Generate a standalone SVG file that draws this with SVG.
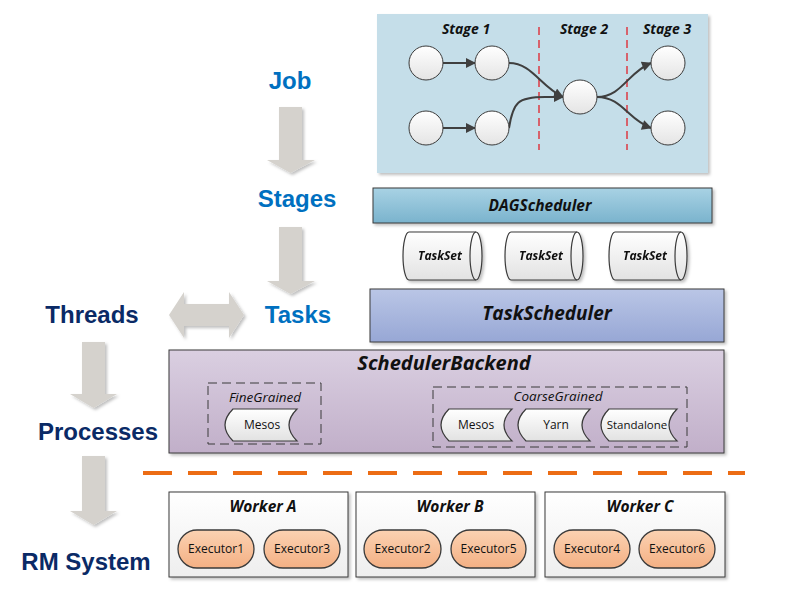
<svg xmlns="http://www.w3.org/2000/svg" width="801" height="595" viewBox="0 0 801 595">
<defs>
<style>
.big{font-family:"Liberation Sans",Arial,sans-serif;font-weight:bold;font-size:24px;text-anchor:middle}
.blue{fill:#0070c0}
.navy{fill:#0a2a66}
.lbl{font-family:"Open Sans","Liberation Sans",sans-serif;fill:#111;text-anchor:middle}
.bi{font-weight:bold;font-style:italic}
.it{font-style:italic}
.box{stroke:#3a3a3a;stroke-width:1}
.circ{fill:url(#gCirc);stroke:#3a3a3a;stroke-width:1}
.edge{fill:none;stroke:#3f3f3f;stroke-width:2;marker-end:url(#ah)}
.red{stroke:#e0202a;stroke-width:1.3;stroke-dasharray:8 5;fill:none}
.gray{fill:#d5d2cd}
.dash{fill:none;stroke:#3a3a3a;stroke-width:1;stroke-dasharray:9 5}
.store{fill:url(#gWhite);stroke:#3a3a3a;stroke-width:1.2}
.exec{fill:url(#gExec);stroke:#3a3a3a;stroke-width:1.3}
</style>
<linearGradient id="gCirc" x1="0" y1="0" x2="0" y2="1"><stop offset="0" stop-color="#ffffff"/><stop offset="1" stop-color="#e4e4e4"/></linearGradient>
<linearGradient id="gWhite" x1="0" y1="0" x2="0" y2="1"><stop offset="0" stop-color="#ffffff"/><stop offset="1" stop-color="#e2e2e2"/></linearGradient>
<linearGradient id="gWorker" x1="0" y1="0" x2="0" y2="1"><stop offset="0" stop-color="#ffffff"/><stop offset="1" stop-color="#eeeeee"/></linearGradient>
<linearGradient id="gDAG" x1="0" y1="0" x2="0" y2="1"><stop offset="0" stop-color="#a8d2e4"/><stop offset="1" stop-color="#7ab3cd"/></linearGradient>
<linearGradient id="gTS" x1="0" y1="0" x2="0" y2="1"><stop offset="0" stop-color="#bac6e6"/><stop offset="1" stop-color="#97a7d5"/></linearGradient>
<linearGradient id="gSB" x1="0" y1="0" x2="0" y2="1"><stop offset="0" stop-color="#dacfe1"/><stop offset="1" stop-color="#c1afc9"/></linearGradient>
<linearGradient id="gExec" x1="0" y1="0" x2="0" y2="1"><stop offset="0" stop-color="#fbd2b2"/><stop offset="1" stop-color="#f4b084"/></linearGradient>
<filter id="sh" x="-5%" y="-10%" width="115%" height="130%"><feDropShadow dx="2" dy="2" stdDeviation="1.5" flood-color="#000" flood-opacity="0.25"/></filter>
<marker id="ah" viewBox="0 0 10 10" refX="9" refY="5" markerWidth="11" markerHeight="10" markerUnits="userSpaceOnUse" orient="auto"><path d="M0,0 L10,5 L0,10 Z" fill="#3f3f3f"/></marker>
</defs>
<rect width="801" height="595" fill="#ffffff"/>

<!-- left labels -->
<g id="lbl-job"><text class="big blue" x="290" y="89">Job</text></g>
<g id="lbl-stages"><text class="big blue" x="297" y="207">Stages</text></g>
<g id="lbl-tasks"><text class="big blue" x="298" y="323">Tasks</text></g>
<g id="lbl-threads"><text class="big navy" x="92" y="323" font-size="25.5">Threads</text></g>
<g id="lbl-processes"><text class="big navy" x="98" y="440">Processes</text></g>
<g id="lbl-rm"><text class="big navy" x="86" y="570" font-size="26">RM System</text></g>

<!-- gray block arrows -->
<g id="block-arrows" filter="url(#sh)">
<polygon class="gray" points="279,107 302,107 302,160 315,160 290.5,173 267,160 279,160"/>
<polygon class="gray" points="279,227 302,227 302,281 315,281 290.5,294 267,281 279,281"/>
<polygon class="gray" points="82,342 105,342 105,394 117,394 93.5,408 70,394 82,394"/>
<polygon class="gray" points="82,456 105,456 105,511 117,511 93.5,525 70,511 82,511"/>
<polygon class="gray" points="169,315 184,292 184,304 229,304 229,292 244,315 229,338 229,326 184,326 184,338"/>
</g>

<!-- Job DAG panel -->
<g id="job-panel">
<rect x="377" y="14" width="331" height="159" fill="#c5dee9" filter="url(#sh)"/>
<text class="lbl bi" x="466" y="34" font-size="14">Stage 1</text>
<text class="lbl bi" x="584" y="34" font-size="14">Stage 2</text>
<text class="lbl bi" x="667" y="34" font-size="14">Stage 3</text>
<line class="red" x1="539" y1="27" x2="539" y2="150"/>
<line class="red" x1="627" y1="27" x2="627" y2="150"/>
</g>
<g id="dag-edges">
<path class="edge" d="M443,63 L475,63"/>
<path class="edge" d="M443,128 L475,128"/>
<path class="edge" d="M509,63 C532,63 540,86 563,97"/>
<path class="edge" d="M509,128 C513,102 518,97 545,97 L563,97"/>
<path class="edge" d="M597,97 C622,97 628,72 651,63"/>
<path class="edge" d="M597,97 C622,97 628,120 651,128"/>
</g>
<g id="n1"><circle class="circ" cx="426" cy="63" r="17"/></g>
<g id="n2"><circle class="circ" cx="492" cy="63" r="17"/></g>
<g id="n3"><circle class="circ" cx="426" cy="128" r="17"/></g>
<g id="n4"><circle class="circ" cx="492" cy="128" r="17"/></g>
<g id="n5"><circle class="circ" cx="580" cy="97" r="17"/></g>
<g id="n6"><circle class="circ" cx="668" cy="63" r="17"/></g>
<g id="n7"><circle class="circ" cx="668" cy="128" r="17"/></g>

<!-- DAGScheduler -->
<g id="dagscheduler">
<rect class="box" x="373" y="188" width="339" height="35" fill="url(#gDAG)" filter="url(#sh)"/>
<text class="lbl bi" x="540" y="211" font-size="15.5">DAGScheduler</text>
</g>

<!-- TaskSets -->
<g id="taskset1" filter="url(#sh)">
<path class="store" d="M409,232 L476,232 A6,24 0 0 1 476,280 L409,280 A6,24 0 0 1 409,232 Z"/>
<path fill="none" stroke="#3a3a3a" stroke-width="1.2" d="M476,232 A6,24 0 0 0 476,280"/>
<text class="lbl bi" x="440" y="260" font-size="12">TaskSet</text>
</g>
<g id="taskset2" filter="url(#sh)">
<path class="store" d="M511,232 L577,232 A6,24 0 0 1 577,280 L511,280 A6,24 0 0 1 511,232 Z"/>
<path fill="none" stroke="#3a3a3a" stroke-width="1.2" d="M577,232 A6,24 0 0 0 577,280"/>
<text class="lbl bi" x="541" y="260" font-size="12">TaskSet</text>
</g>
<g id="taskset3" filter="url(#sh)">
<path class="store" d="M615,232 L681,232 A6,24 0 0 1 681,280 L615,280 A6,24 0 0 1 615,232 Z"/>
<path fill="none" stroke="#3a3a3a" stroke-width="1.2" d="M681,232 A6,24 0 0 0 681,280"/>
<text class="lbl bi" x="645" y="260" font-size="12">TaskSet</text>
</g>

<!-- TaskScheduler -->
<g id="taskscheduler">
<rect class="box" x="370" y="289" width="354" height="53" fill="url(#gTS)" filter="url(#sh)"/>
<text class="lbl bi" x="547" y="320" font-size="19">TaskScheduler</text>
</g>

<!-- SchedulerBackend -->
<g id="schedulerbackend">
<rect class="box" x="169" y="350" width="555" height="103" fill="url(#gSB)" filter="url(#sh)"/>
<text class="lbl bi" x="444" y="370" font-size="20">SchedulerBackend</text>
</g>
<g id="finegrained">
<rect class="dash" x="208" y="383" width="113" height="61"/>
<text class="lbl it" x="265" y="402" font-size="13.5">FineGrained</text>
</g>
<g id="fine-mesos">
<path class="store" d="M233,409 L297,409 Q281,425 297,441 L233,441 Q217,425 233,409 Z"/>
<text class="lbl" x="262" y="429" font-size="12">Mesos</text>
</g>
<g id="coarsegrained">
<rect class="dash" x="433" y="387" width="254" height="60"/>
<text class="lbl it" x="558" y="401" font-size="13.5">CoarseGrained</text>
</g>
<g id="coarse-mesos">
<path class="store" d="M449,409 L512,409 Q496,425 512,441 L449,441 Q433,425 449,409 Z"/>
<text class="lbl" x="476" y="429" font-size="12">Mesos</text>
</g>
<g id="coarse-yarn">
<path class="store" d="M526,409 L590,409 Q574,425 590,441 L526,441 Q510,425 526,409 Z"/>
<text class="lbl" x="556" y="429" font-size="12">Yarn</text>
</g>
<g id="coarse-standalone">
<path class="store" d="M609,409 L677,409 Q661,425 677,441 L609,441 Q593,425 609,409 Z"/>
<text class="lbl" x="637" y="429" font-size="11.5">Standalone</text>
</g>

<!-- orange separator -->
<line x1="143" y1="473" x2="745" y2="473" stroke="#ec6c14" stroke-width="4" stroke-dasharray="29 16"/>

<!-- Workers -->
<g id="workerA">
<rect class="box" x="169" y="492" width="179" height="85" fill="url(#gWorker)" filter="url(#sh)"/>
<text class="lbl bi" x="263" y="512" font-size="15.5">Worker A</text>
</g>
<g id="workerB">
<rect class="box" x="356" y="492" width="179" height="85" fill="url(#gWorker)" filter="url(#sh)"/>
<text class="lbl bi" x="450" y="512" font-size="15.5">Worker B</text>
</g>
<g id="workerC">
<rect class="box" x="545" y="492" width="180" height="85" fill="url(#gWorker)" filter="url(#sh)"/>
<text class="lbl bi" x="640" y="512" font-size="15.5">Worker C</text>
</g>
<g id="exec1"><rect class="exec" x="178" y="530" width="76" height="38" rx="19"/><text class="lbl" x="216" y="553" font-size="12">Executor1</text></g>
<g id="exec3"><rect class="exec" x="264" y="530" width="76" height="38" rx="19"/><text class="lbl" x="302" y="553" font-size="12">Executor3</text></g>
<g id="exec2"><rect class="exec" x="364" y="530" width="77" height="38" rx="19"/><text class="lbl" x="402.5" y="553" font-size="12">Executor2</text></g>
<g id="exec5"><rect class="exec" x="451" y="530" width="75" height="38" rx="19"/><text class="lbl" x="488.5" y="553" font-size="12">Executor5</text></g>
<g id="exec4"><rect class="exec" x="554" y="530" width="76" height="38" rx="19"/><text class="lbl" x="592" y="553" font-size="12">Executor4</text></g>
<g id="exec6"><rect class="exec" x="639" y="530" width="76" height="38" rx="19"/><text class="lbl" x="677" y="553" font-size="12">Executor6</text></g>
</svg>
